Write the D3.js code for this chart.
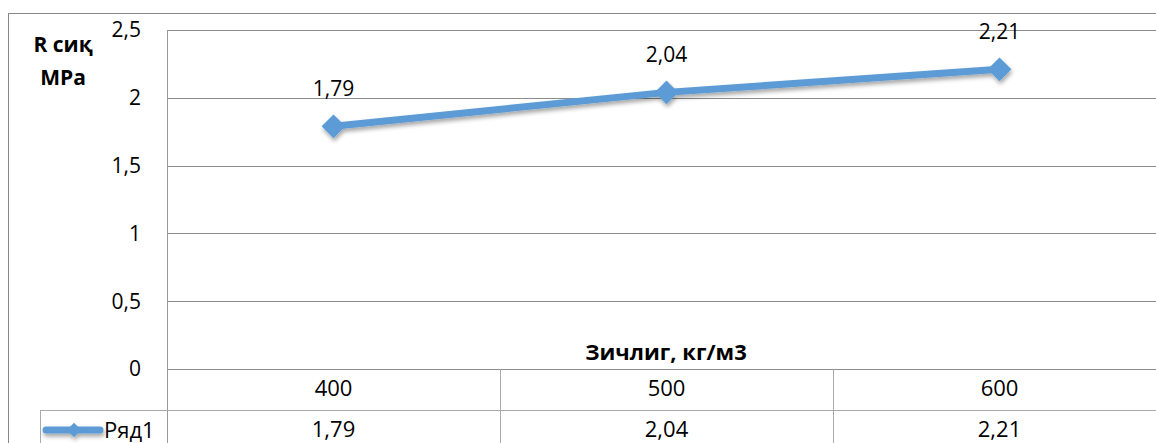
<!DOCTYPE html>
<html>
<head>
<meta charset="utf-8">
<script src="https://cdn.jsdelivr.net/npm/d3@7"></script>
<style>
  body { margin: 0; background: #fff; }
  text { font-family: "Open Sans", "Noto Sans", sans-serif; fill: #000; }
</style>
</head>
<body>
<script>
// data
var categories = ["400", "500", "600"];
var values = [1.79, 2.04, 2.21];
var yTicks = [0, 0.5, 1, 1.5, 2, 2.5];
var seriesName = "Ряд1";

var W = 1156, H = 443;
var fmt = function(v) { return String(v).replace(".", ","); };

var svg = d3.select("body").append("svg")
    .attr("width", W)
    .attr("height", H);

var defs = svg.append("defs");
defs.append("filter").attr("id", "shadow")
    .attr("x", "-50%").attr("y", "-50%").attr("width", "200%").attr("height", "200%")
  .append("feDropShadow")
    .attr("dx", 1).attr("dy", 3).attr("stdDeviation", 2)
    .attr("flood-color", "#000").attr("flood-opacity", 0.35);

// outer chart border
svg.append("rect")
    .attr("x", 8.5).attr("y", 13.5)
    .attr("width", 1200).attr("height", 500)
    .attr("fill", "none").attr("stroke", "#888");

// scales
var x = d3.scaleBand().domain(categories).range([167, 1166]);
var y = d3.scaleLinear().domain([0, 2.5]).range([369, 30]);

// gridlines
svg.append("g").selectAll("line")
    .data(yTicks)
  .enter().append("line")
    .attr("x1", 167).attr("x2", W)
    .attr("y1", function(d) { return Math.round(y(d)) + 0.5; })
    .attr("y2", function(d) { return Math.round(y(d)) + 0.5; })
    .attr("stroke", "#8c8c8c")
    .attr("stroke-width", 1);

// y axis line
svg.append("line")
    .attr("x1", 167.5).attr("x2", 167.5)
    .attr("y1", 30).attr("y2", H)
    .attr("stroke", "#999");

// y tick labels
svg.append("g").selectAll("text")
    .data(yTicks)
  .enter().append("text")
    .attr("x", 141)
    .attr("y", function(d) { return y(d); })
    .attr("dy", "0.35em")
    .attr("text-anchor", "end")
    .style("font-size", "21px")
    .text(fmt);

// y title
svg.append("text")
    .attr("x", 63).attr("y", 45).attr("dy", "0.35em")
    .attr("text-anchor", "middle")
    .style("font-size", "21px").style("font-weight", "bold")
    .text("R сиқ");
svg.append("text")
    .attr("x", 63).attr("y", 78).attr("dy", "0.35em")
    .attr("text-anchor", "middle")
    .style("font-size", "21px").style("font-weight", "bold")
    .text("MPa");

// x title
svg.append("text")
    .attr("x", 666).attr("y", 352).attr("dy", "0.35em")
    .attr("text-anchor", "middle")
    .style("font-size", "22px").style("font-weight", "bold")
    .text("Зичлиг, кг/м3");

// data table
var rowTop = 369, rowH = 41;
svg.append("line")
    .attr("x1", 40).attr("x2", W)
    .attr("y1", rowTop + rowH + 0.5).attr("y2", rowTop + rowH + 0.5)
    .attr("stroke", "#aaa");
svg.append("line")
    .attr("x1", 40.5).attr("x2", 40.5)
    .attr("y1", rowTop + rowH).attr("y2", H)
    .attr("stroke", "#aaa");
svg.append("g").selectAll("line")
    .data(categories.slice(1))
  .enter().append("line")
    .attr("x1", function(d) { return Math.round(x(d)) + 0.5; })
    .attr("x2", function(d) { return Math.round(x(d)) + 0.5; })
    .attr("y1", rowTop).attr("y2", H)
    .attr("stroke", "#aaa");

svg.append("g").selectAll("text")
    .data(categories)
  .enter().append("text")
    .attr("x", function(d) { return x(d) + x.bandwidth() / 2; })
    .attr("y", rowTop + rowH / 2 - 1)
    .attr("dy", "0.35em")
    .attr("text-anchor", "middle")
    .style("font-size", "22px")
    .text(function(d) { return d; });

svg.append("g").selectAll("text")
    .data(values)
  .enter().append("text")
    .attr("x", function(d, i) { return x(categories[i]) + x.bandwidth() / 2; })
    .attr("y", rowTop + rowH + rowH / 2 - 1)
    .attr("dy", "0.35em")
    .attr("text-anchor", "middle")
    .style("font-size", "22px")
    .text(fmt);

// legend key in table
var lg = svg.append("g").attr("filter", "url(#shadow)");
lg.append("line")
    .attr("x1", 46).attr("x2", 100)
    .attr("y1", 430).attr("y2", 430)
    .attr("stroke", "#5b9bd5").attr("stroke-width", 7)
    .attr("stroke-linecap", "round");
lg.append("path")
    .attr("d", d3.symbol().type(d3.symbolDiamond2).size(130)())
    .attr("transform", "translate(74,430)")
    .attr("fill", "#5b9bd5");
svg.append("text")
    .attr("x", 104).attr("y", 430).attr("dy", "0.35em")
    .style("font-size", "22px")
    .text(seriesName);

// series line
var cx = function(d, i) { return x(categories[i]) + x.bandwidth() / 2; };
var line = d3.line()
    .x(cx)
    .y(function(d) { return y(d); });

var sg = svg.append("g").attr("filter", "url(#shadow)");
sg.append("path")
    .datum(values)
    .attr("d", line)
    .attr("fill", "none")
    .attr("stroke", "#5b9bd5")
    .attr("stroke-width", 7)
    .attr("stroke-linejoin", "round");

sg.selectAll(".mark")
    .data(values)
  .enter().append("path")
    .attr("class", "mark")
    .attr("d", d3.symbol().type(d3.symbolDiamond2).size(360)())
    .attr("transform", function(d, i) { return "translate(" + cx(d, i) + "," + y(d) + ")"; })
    .attr("fill", "#5b9bd5");

// data labels
svg.append("g").selectAll("text")
    .data(values)
  .enter().append("text")
    .attr("x", cx)
    .attr("y", function(d) { return y(d) - 38; })
    .attr("dy", "0.35em")
    .attr("text-anchor", "middle")
    .style("font-size", "21px")
    .text(fmt);
</script>
</body>
</html>
